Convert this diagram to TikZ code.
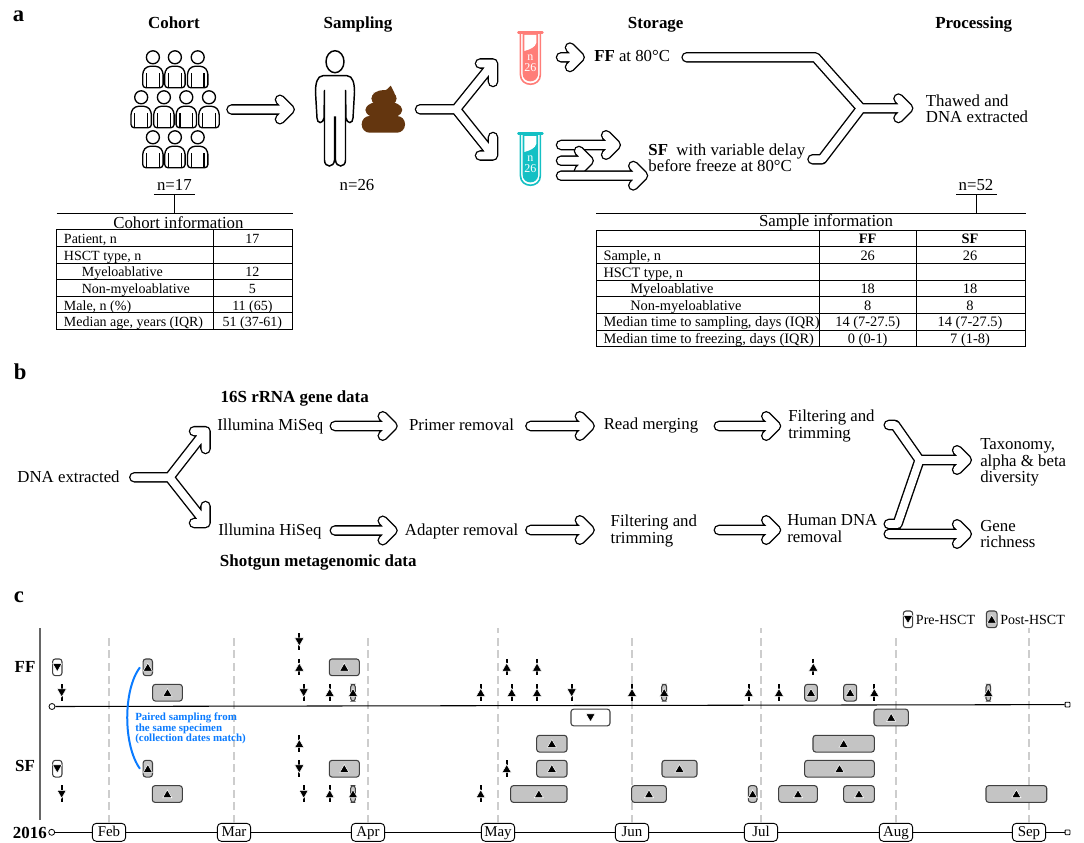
\documentclass[tikz,border=0pt]{standalone}
\usepackage{fontspec}
\usepackage{xcolor}
\setmainfont{Liberation Serif}
\usetikzlibrary{arrows.meta, positioning, shapes.geometric}
\definecolor{mycoral}{RGB}{255, 125, 120}
\definecolor{myteal}{RGB}{20, 192, 196}
\definecolor{mybrown}{RGB}{100, 54, 15}
\definecolor{myblue}{RGB}{10, 123, 255}
\definecolor{myboxgray}{RGB}{196, 196, 196}
\definecolor{mygrid}{RGB}{205, 205, 205}
\newcommand{\bodyfont}{\fontsize{12.6pt}{12.5pt}\selectfont}
\newcommand{\tabfont}{\fontsize{10.5pt}{12pt}\selectfont}
\newcommand{\wideTabfont}{\fontsize{10.8pt}{12pt}\selectfont}
\newcommand{\headat}[1]{(#1) ++(-9.75,-9.75) -- (#1) -- ++(-9.75,9.75)}
\newcommand{\hollow}[1]{\draw[hollowout] #1; \draw[hollowin] #1;}
\begin{document}
\begin{tikzpicture}[x=0.75pt,y=-0.75pt,
          hollowout/.style={line width=7.9pt,line cap=round,line join=round},
          hollowin/.style={white,line width=5.8pt,line cap=round,line join=round},
          body/.style={font=\bodyfont,inner sep=0pt,align=left},
          title/.style={font=\fontsize{12.7pt}{12.5pt}\selectfont\bfseries,inner sep=0pt},
          panel/.style={font=\fontsize{17pt}{17pt}\selectfont\bfseries,inner sep=0pt},
          tabcell/.style={font=\tabfont,inner sep=0pt},
          widecell/.style={font=\wideTabfont,inner sep=0pt},
          tabline/.style={line width=0.75pt},
          anybox/.style={draw=black!75,rounded corners=2pt,line width=0.8pt,
                      minimum height=12.5pt,inner sep=0pt},
          postbox/.style={anybox,fill=myboxgray},
          prebox/.style={anybox,fill=white},
          uptri/.style={regular polygon,regular polygon sides=3,fill=black,draw=white,
                      line width=0.4pt,inner sep=0pt,minimum size=8pt,yshift=-0.8pt},
          downtri/.style={uptri,regular polygon rotate=180,yshift=1.6pt},
          tick/.style={line width=1.3pt,dash pattern=on 3.5pt off 1pt},
          griddash/.style={mygrid,line width=1.5pt,dash pattern=on 6pt off 3.5pt},
          monthbox/.style={draw,fill=white,rounded corners=3pt,line width=0.7pt,
                      font=\fontsize{11.2pt}{11pt}\selectfont,inner sep=0pt,
                      text height=7.6pt,text depth=2pt,
                      minimum width=25pt,minimum height=13.5pt},
          pics/person/.style={code={
            \draw[line width=1pt,line join=round,fill=white,rounded corners=2.5pt]
              (0,30.5) -- (-10.2,30.5) -- (-10.2,14) -- (-6,9) -- (6,9)
              -- (10.2,14) -- (10.2,30.5) -- cycle;
            \draw[line width=1pt] (-6.4,16) -- (-6.4,30.5) (6.4,16) -- (6.4,30.5);
            \draw[line width=1pt,fill=white] (0,0) circle (6.5);
          }},
          pics/tube/.style={code={
            \draw[#1,line width=1.2pt,fill=white] (-10,2) -- (-10,43)
              .. controls (-10,56) and (10,56) .. (10,43) -- (10,2);
            \draw[#1,line width=2pt,line cap=round] (-12,1) -- (12,1);
            \fill[#1] (-7.8,2) -- (-7.8,42) .. controls (-7.8,52.5) and (7.8,52.5) .. (7.8,42)
              -- (7.8,2) -- cycle;
            \fill[white] (-6,3.5) -- (-6,19.5) .. controls (-1,18) and (5,16) .. (6,11) -- (6,3.5) -- cycle;
            \node[white,font=\fontsize{9pt}{9pt}\selectfont,inner sep=0pt] (n) at (0,26) {n};
            \node[white,font=\fontsize{9pt}{9pt}\selectfont,inner sep=0pt] (count) at (0,36.5) {26};
          }}]
  \foreach \nm/\xx/\yy in {cohortout/231.5/109.5,samplein/289.7/109.5,
      forkin/420/109.3,forkmid/456/109.3,ffcorner/493/63.5,sfcorner/493/155.5,
      ffin/561/57.3,fftip/579.7/57.3,
      sfinA/561/145,sftipA/615.8/145,sfinB/561/160.7,sftipB/588.7/160.7,
      sfinC/561/175.7,sftipC/643/175.7,
      ffout/686.6/57.3,ffbend/815.5/57.3,sfout/812.5/159.3,sfbend/822/159.3,
      mergemid/861/108.3,mergetip/908.2/108.3,
      dnaout/134.3/477.3,dnamid/169.5/477.3,miseqcorner/205.5/431.2,hiseqcorner/205.5/523,
      miseqout/334.8/426,primerin/392.5/426,primerout/530.4/426,mergein/589.6/426,
      readout/718.8/426,filterin/776/426,
      hiseqout/334.8/530.5,adapterin/392.5/530.5,adapterout/530.4/530,filterBin/589.6/530,
      filterBout/718.8/530,humanin/776/530,
      filterup/888.7/425,filterbend/895/425,outmid/919.5/460,taxin/966.8/460,
      humanstub/888.7/524,humanbend/897.5/524,humanout/888.7/534,genein/966.8/534}
    \coordinate (\nm) at (\xx,\yy);
  \node[panel,anchor=base west] (pa) at (12.7,22) {a};
  \node[panel,anchor=base west] (pb) at (13.5,379.3) {b};
  \node[panel,anchor=base west] (pc) at (13.5,602) {c};
  \node[title,anchor=base] (tcohort) at (174,29) {Cohort};
  \node[title,anchor=base] (tsampling) at (358,29) {Sampling};
  \node[title,anchor=base] (tstorage) at (655.7,29) {Storage};
  \node[title,anchor=base] (tprocess) at (973.7,29) {Processing};
  \foreach \xx/\yy [count=\k] in {152.9/57.3,174.9/57.3,197.7/57.3,
      141.2/97.3,163.9/97.3,186.3/97.3,209/97.3,
      152.9/137.3,174.9/137.3,197.7/137.3}
    \pic (pers\k) at (\xx,\yy) {person};
  \hollow{(cohortout) -- (samplein) \headat{samplein}}
  \draw[line width=1.1pt,fill=white] (335,61.7) ellipse (9 and 11);
  \draw[line width=1.1pt,fill=white] (323,75.7) .. controls (317,75.7) and (315.5,84) .. (315.5,92)
    -- (317,118) .. controls (317,124) and (323,124) .. (324,118) -- (324.5,90) -- (324.5,160)
    .. controls (324.5,168) and (334,168) .. (334.5,160) -- (334.5,117) -- (335.5,117) -- (335.5,160)
    .. controls (336,168) and (345.5,168) .. (345.5,160) -- (345.5,90) -- (346,118)
    .. controls (347,124) and (353,124) .. (353,118) -- (354.5,92)
    .. controls (354.5,84) and (353,75.7) .. (347,75.7) -- cycle;
  \fill[mybrown,rounded corners=6pt] (361.7,116) rectangle (405,132.7);
  \fill[mybrown] (383.8,110) ellipse (18.5 and 9);
  \fill[mybrown] (384,98.5) ellipse (12.6 and 8.5);
  \fill[mybrown] (373,93) .. controls (380,93) and (387,91) .. (390.7,85.7)
    .. controls (393,90) and (396,95) .. (396,100) -- cycle;
  \hollow{(forkin) -- (forkmid) -- (ffcorner) (forkmid) -- (sfcorner)
    (480,63.5) -- (ffcorner) -- (493,82) (480,155.5) -- (sfcorner) -- (493,137)}
  \pic (redtube) at (530.4,31.5) {tube=mycoral};
  \pic (tealtube) at (530.4,132.5) {tube=myteal};
  \hollow{(ffin) -- (fftip) \headat{fftip}}
  \hollow{(sfinA) -- (sftipA) \headat{sftipA}}
  \hollow{(sfinB) -- (sftipB) \headat{sftipB}}
  \hollow{(sfinC) -- (sftipC) \headat{sftipC}}
  \hollow{(ffout) -- (ffbend) -- (mergemid) -- (mergetip) \headat{mergetip}
    (sfout) -- (sfbend) -- (mergemid)}
  \node[body,anchor=base west] (ftext) at (594,61.7) {\textbf{FF} at 80°C};
  \node[body,anchor=base west] (stextA) at (648.2,155) {\textbf{SF}\ \ with variable delay};
  \node[body,anchor=base west] (stextB) at (648.2,171) {before freeze at 80°C};
  \node[body,anchor=base west] (thawA) at (925.7,106.7) {Thawed and};
  \node[body,anchor=base west] (thawB) at (925.7,122.7) {DNA extracted};
  \node[body,anchor=base] (ncohort) at (174.4,190) {n=17};
  \node[body,anchor=base] (nsample) at (357,190) {n=26};
  \node[body,anchor=base] (nstore) at (976,190) {n=52};
  \draw[tabline] (153.9,194.3) -- (194.9,194.3) (174.6,194.3) -- (174.6,213.3);
  \draw[tabline] (956,194.3) -- (996.7,194.3) (976,194.3) -- (976,213.3);
  \draw[tabline] (56.5,213.3) -- (292.7,213.3);
  \node[body,anchor=center] (cinfo) at (178.4,222.5) {Cohort information};
  \draw[tabline] (56.5,229.5) rectangle (292.7,329.3) (213.5,229.5) -- (213.5,329.3);
  \foreach \yy in {246.5,263,279.7,296.3,312.7}
    \draw[tabline] (56.5,\yy) -- (292.7,\yy);
  \foreach \lab/\val/\yy/\lx [count=\k] in {{Patient, n}/17/243/63.7,{HSCT type, n}/{}/260/63.7,
      Myeloablative/12/276.5/81.6,Non-myeloablative/5/293/81.6,
      {Male, n (\%)}/{11 (65)}/310/63.7,{Median age, years (IQR)}/{51 (37-61)}/326.5/63.7}
    {\node[tabcell,anchor=base west] (clab\k) at (\lx,\yy) {\lab};
     \node[tabcell,anchor=base] (cval\k) at (252.4,\yy) {\val};}
  \draw[tabline] (596,213.3) -- (1025.7,213.3);
  \node[body,anchor=center] (sinfo) at (826,222.5) {Sample information};
  \draw[tabline] (596,230) rectangle (1025.7,346.7) (819.3,230) -- (819.3,346.7)
    (916.7,230) -- (916.7,346.7);
  \foreach \yy in {246.3,263.3,280.3,296.7,313.3,330}
    \draw[tabline] (596,\yy) -- (1025.7,\yy);
  \node[widecell,font=\wideTabfont\bfseries,anchor=base] (hff) at (867.7,243) {FF};
  \node[widecell,font=\wideTabfont\bfseries,anchor=base] (hsf) at (970,243) {SF};
  \foreach \lab/\ffv/\sfv/\yy/\lx [count=\k] in {{Sample, n}/26/26/260.5/603.3,
      {HSCT type, n}/{}/{}/277/603.3,Myeloablative/18/18/293.5/630,
      Non-myeloablative/8/8/310/630,
      {Median time to sampling, days (IQR)}/{14 (7-27.5)}/{14 (7-27.5)}/326.5/603.3,
      {Median time to freezing, days (IQR)}/{0 (0-1)}/{7 (1-8)}/343.5/603.3}
    {\node[widecell,anchor=base west] (slab\k) at (\lx,\yy) {\lab};
     \node[widecell,anchor=base] (sffv\k) at (867.7,\yy) {\ffv};
     \node[widecell,anchor=base] (ssfv\k) at (970,\yy) {\sfv};}
  \node[body,anchor=base west] (dnatext) at (17.2,482.7) {DNA extracted};
  \node[title,anchor=base west] (t16s) at (220.4,402.7) {16S rRNA gene data};
  \node[title,anchor=base west] (tshot) at (219.7,566) {Shotgun metagenomic data};
  \node[body,anchor=base west] (miseq) at (217,430) {Illumina MiSeq};
  \node[body,anchor=base west] (hiseq) at (218,535) {Illumina HiSeq};
  \node[body,anchor=base west] (primer) at (408.8,430) {Primer removal};
  \node[body,anchor=base west] (adapter) at (404.6,535) {Adapter removal};
  \node[body,anchor=base west] (readmerge) at (603.5,429.3) {Read merging};
  \node[body,anchor=base west] (filtA) at (788,421.7) {Filtering and};
  \node[body,anchor=base west] (trimA) at (788,438.3) {trimming};
  \node[body,anchor=base west] (filtB) at (610.4,526.7) {Filtering and};
  \node[body,anchor=base west] (trimB) at (610.4,543.3) {trimming};
  \node[body,anchor=base west] (humanA) at (787,525.7) {Human DNA};
  \node[body,anchor=base west] (humanB) at (787,542.3) {removal};
  \node[body,anchor=base west] (taxA) at (980,449.3) {Taxonomy,};
  \node[body,anchor=base west] (taxB) at (980,466) {alpha \& beta};
  \node[body,anchor=base west] (taxC) at (980,482.7) {diversity};
  \node[body,anchor=base west] (geneA) at (980,531) {Gene};
  \node[body,anchor=base west] (geneB) at (980,547.7) {richness};
  \hollow{(dnaout) -- (dnamid) -- (miseqcorner) (dnamid) -- (hiseqcorner)
    (194,431.2) -- (miseqcorner) -- (205.5,449) (194,523) -- (hiseqcorner) -- (205.5,506)}
  \hollow{(miseqout) -- (primerin) \headat{primerin}}
  \hollow{(primerout) -- (mergein) \headat{mergein}}
  \hollow{(readout) -- (filterin) \headat{filterin}}
  \hollow{(hiseqout) -- (adapterin) \headat{adapterin}}
  \hollow{(adapterout) -- (filterBin) \headat{filterBin}}
  \hollow{(filterBout) -- (humanin) \headat{humanin}}
  \hollow{(filterup) -- (filterbend) -- (outmid) -- (taxin) \headat{taxin}
    (humanstub) -- (humanbend) -- (outmid)
    (humanout) -- (genein) \headat{genein}}
  \foreach \mon/\xx/\len in {Feb/109/189,Mar/234/189,Apr/368/189,May/498/195,
      Jun/632/189,Jul/761/195,Aug/896/189,Sep/1029/195}
    {\node[monthbox] (\mon) at (\xx,832.3) {\mon};
     \draw[griddash] (\mon.north) -- ++(0,-\len);}
  \draw[gray!80!black,line width=1.2pt] (40,628) -- (40,820);
  \node[draw,circle,fill=white,line width=0.6pt,inner sep=0pt,minimum size=4.5pt] (topstart) at (52,706.5) {};
  \node[draw,fill=white,rounded corners=0.5pt,line width=0.6pt,inner sep=0pt,minimum size=3.6pt] (topend) at (1067.5,704.6) {};
  \node[draw,circle,fill=white,line width=0.6pt,inner sep=0pt,minimum size=4.5pt] (botstart) at (51.7,832.3) {};
  \node[draw,fill=white,rounded corners=0.5pt,line width=0.6pt,inner sep=0pt,minimum size=3.6pt] (botend) at (1067.5,832.3) {};
  \draw[line width=0.8pt] (topstart) -- (topend);
  \draw[line width=0.8pt] (botstart) -- (Feb) -- (Mar) -- (Apr) -- (May) -- (Jun) -- (Jul) -- (Aug) -- (Sep) -- (botend);
  \node[title,anchor=base] (lff) at (25,672) {FF};
  \node[title,anchor=base] (lsf) at (25,771) {SF};
  \node[title,anchor=base west] (lyear) at (12.7,838) {2016};
  \foreach \xa/\xb/\yy [count=\k] in {329.3/359.3/667.3,152.7/182.3/692.7,350.7/355.3/692.7,
      661.7/666.7/692.7,804.7/817.3/692.7,843.7/856.7/692.7,986/990.7/692.7,
      874/908.3/717.5,536.7/567/743.7,813/874.3/743.7,329.3/359.3/768.7,536.7/567/768.7,
      662/697/768.7,804.7/874.3/768.7,152.3/182.3/794,350.7/355.3/794,510.7/567/794,
      631.7/666.3/794,748.3/757/794,778.7/817.3/794,843.7/874.3/794,986/1046.7/794}
    {\node[postbox,minimum width={(\xb-\xa)*0.75pt}] (span\k) at ({(\xa+\xb)/2},\yy) {};
     \node[uptri] (spantri\k) at (span\k) {};}
  \node[prebox,minimum width=7pt] (ffpre) at (57.3,667.3) {};
  \node[downtri] (ffpretri) at (ffpre) {};
  \node[prebox,minimum width=7pt] (sfpre) at (57.3,768.7) {};
  \node[downtri] (sfpretri) at (sfpre) {};
  \node[prebox,minimum width={39*0.75pt}] (ffspan) at (590.5,717.5) {};
  \node[downtri] (ffspantri) at (ffspan) {};
  \node[postbox,minimum width=7pt] (ffpair) at (147.8,667.3) {};
  \node[uptri] (ffpairtri) at (ffpair) {};
  \node[postbox,minimum width=7pt] (sfpair) at (147.8,768.7) {};
  \node[uptri] (sfpairtri) at (sfpair) {};
  \foreach \xx/\yy/\tri [count=\k] in {299.3/641.7/downtri,299.3/667.3/uptri,506.7/667.3/uptri,
      537/667.3/uptri,813.3/667.3/uptri,61.7/692.7/downtri,303.7/692.7/downtri,329.7/692.7/uptri,
      480.7/692.7/uptri,511.7/692.7/uptri,537/692.7/uptri,571.7/692.7/downtri,632/692.7/uptri,
      748.7/692.7/uptri,779/692.7/uptri,874.3/692.7/uptri,299.3/743.7/uptri,299.3/768.7/downtri,
      506.7/768.7/uptri,61.7/794/downtri,303.7/794/downtri,329.7/794/uptri,480.7/794/uptri}
    {\coordinate (mark\k) at (\xx,\yy);
     \draw[tick] ([yshift=6.4pt]mark\k) -- ([yshift=-6.4pt]mark\k);
     \node[\tri] (marktri\k) at (mark\k) {};}
  \draw[myblue,line width=1.5pt] ([xshift=-2pt]ffpair.west) .. controls (123,690) and (123,745) .. ([xshift=-2pt]sfpair.west);
  \node[myblue,font=\fontsize{8.2pt}{7.6pt}\selectfont\bfseries,inner sep=0pt,anchor=north west,align=left]
    (pairnote) at (135,713) {Paired sampling from\\the same specimen\\(collection dates match)};
  \node[prebox,minimum width=7pt] (keypre) at (908,619.3) {};
  \node[downtri] (keypretri) at (keypre) {};
  \node[tabcell,anchor=base west] (keypretext) at (915.7,624) {Pre-HSCT};
  \node[postbox,minimum width=8pt] (keypost) at (991.7,619.3) {};
  \node[uptri] (keyposttri) at (keypost) {};
  \node[tabcell,anchor=base west] (keyposttext) at (1000,624) {Post-HSCT};
  \useasboundingbox (0,0) rectangle (1084,842);
\end{tikzpicture}
\end{document}
